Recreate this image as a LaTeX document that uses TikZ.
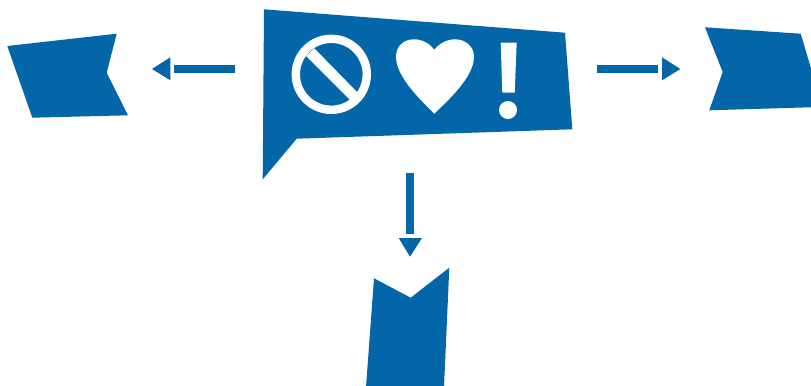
\documentclass[tikz,border=0pt]{standalone}
\definecolor{brandblue}{HTML}{0366A8}
\tikzset{
  solidblue/.style={fill=brandblue,draw=none},
  iconwhite/.style={fill=white,draw=none}
}
\begin{document}
\begin{tikzpicture}[x=0.03cm,y=-0.03cm]
\useasboundingbox (0,0) rectangle (811,385);
\clip (0,0) rectangle (811,385);
% speech bubble
\fill[solidblue] (264,9.3) -- (565,32.7) -- (572.3,129.3) -- (296.7,138.7) -- (262.7,179.3) -- cycle;
% prohibition icon
\fill[iconwhite,even odd rule] (331.3,74.3) circle [radius=39.7] (331.3,74.3) circle [radius=31.3];
\fill[iconwhite] (306,56) -- (314.3,48.3) -- (358.5,93.5) -- (351,101) -- cycle;
% heart
\fill[iconwhite] (434.3,113.7)
  .. controls (424,103) and (396,78) .. (396,56.7)
  .. controls (396,46) and (404,39.3) .. (414,39.3)
  .. controls (423,39.3) and (430,44) .. (434.3,49.7)
  .. controls (439,44) and (446,39.3) .. (455,39.3)
  .. controls (465,39.3) and (474,46) .. (474,56.7)
  .. controls (474,78) and (445,103) .. (434.3,113.7) -- cycle;
% exclamation mark
\fill[iconwhite] (500.7,42.7) -- (516.7,42.7) -- (514.7,92.7) -- (502.3,92.7) -- cycle;
\fill[iconwhite] (508,110) circle [radius=9];
% left arrow and banner
\fill[solidblue] (174,65) rectangle (235,73);
\fill[solidblue] (152,69) -- (170.3,57.3) -- (170.3,80.3) -- cycle;
\fill[solidblue] (7.3,46) -- (116.7,33.7) -- (106.7,72.7) -- (128,115.3) -- (32.3,117.7) -- cycle;
% right arrow and banner
\fill[solidblue] (597,65) rectangle (658,73);
\fill[solidblue] (680.3,69) -- (662,57.3) -- (662,80.3) -- cycle;
\fill[solidblue] (705,27.3) -- (800.7,33.7) -- (813,75) -- (813,107.2) -- (709.3,110.3) -- (722.7,72) -- cycle;
% down arrow and banner
\fill[solidblue] (406,173) rectangle (414,234);
\fill[solidblue] (398.7,238) -- (422,238) -- (410,256.7) -- cycle;
\fill[solidblue] (374,278.3) -- (410.7,297.7) -- (449.3,267.7) -- (444,387) -- (366,387) -- cycle;
\end{tikzpicture}
\end{document}
